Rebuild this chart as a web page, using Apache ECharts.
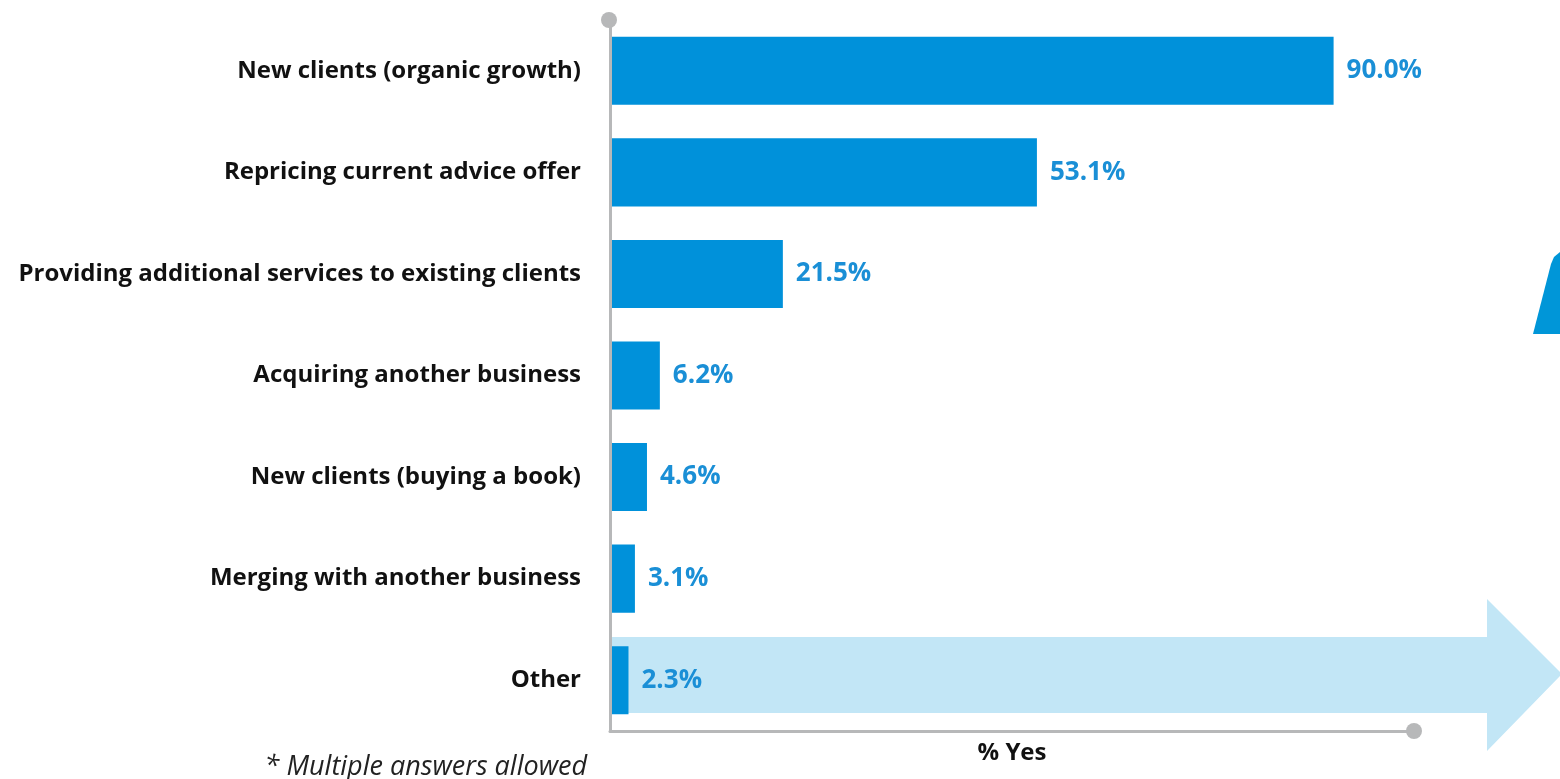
<!DOCTYPE html>
<html>
<head>
<meta charset="utf-8">
<style>
  html, body { margin: 0; padding: 0; background: #ffffff; }
  #chart { width: 1560px; height: 779px; }
</style>
<script src="https://cdn.jsdelivr.net/npm/echarts@6/dist/echarts.min.js"></script>
</head>
<body>
<div id="chart"></div>
<script>
// Growth sources named by advice businesses (share answering yes)
const categories = [
  'New clients (organic growth)',
  'Repricing current advice offer',
  'Providing additional services to existing clients',
  'Acquiring another business',
  'New clients (buying a book)',
  'Merging with another business',
  'Other'
];
const yesShare = [90.0, 53.1, 21.5, 6.2, 4.6, 3.1, 2.3];
const axisTitle = '% Yes';
const footnote = '* Multiple answers allowed';

const FONT = '"Open Sans", "Noto Sans", sans-serif';
const BAR_BLUE = '#0091da';
const LABEL_BLUE = '#1a8fd6';
const AXIS_GREY = '#b7b8b9';

const grid = { left: 610, right: 146, top: 20, bottom: 48 };

const chart = echarts.init(document.getElementById('chart'), null, { renderer: 'canvas' });

chart.setOption({
  animation: false,
  backgroundColor: '#ffffff',
  grid: grid,
  xAxis: {
    type: 'value',
    min: 0,
    max: 100,
    splitLine: { show: false },
    axisLabel: { show: false },
    axisTick: { show: false },
    axisLine: { show: true, onZero: false, lineStyle: { color: AXIS_GREY, width: 3 } },
    name: axisTitle,
    nameLocation: 'middle',
    nameGap: 10,
    nameTextStyle: { fontFamily: FONT, fontWeight: 'bold', fontSize: 24, color: '#111111', verticalAlign: 'top' },
    z: 5
  },
  yAxis: {
    type: 'category',
    data: categories,
    inverse: true,
    axisTick: { show: false },
    axisLine: { show: true, lineStyle: { color: AXIS_GREY, width: 3 } },
    axisLabel: {
      margin: 29,
      fontFamily: FONT,
      fontWeight: 'bold',
      fontSize: 24,
      color: '#111111'
    },
    z: 5
  },
  series: [{
    type: 'bar',
    data: yesShare,
    barCategoryGap: '33%',
    itemStyle: { color: BAR_BLUE },
    label: {
      show: true,
      position: 'right',
      distance: 13,
      formatter: p => p.value.toFixed(1) + '%',
      fontFamily: FONT,
      fontWeight: 'bold',
      fontSize: 26,
      color: LABEL_BLUE
    },
    z: 3
  }],
  graphic: [
    // light arrow running behind the last row
    {
      type: 'polygon',
      z: -10,
      shape: {
        points: [[611, 637], [1487, 637], [1487, 599], [1562, 674], [1487, 751], [1487, 713], [611, 713]]
      },
      style: { fill: '#c2e6f6' }
    },
    // sliver of a blue shape at the right edge
    {
      type: 'polygon',
      z: -10,
      shape: {
        points: [[1533, 334], [1551, 264], [1554, 257], [1560, 252], [1560, 334]]
      },
      style: { fill: '#0096d8' }
    },
    // round caps at the axis ends
    { type: 'circle', z: 10, shape: { cx: 609, cy: 20, r: 8 }, style: { fill: AXIS_GREY } },
    { type: 'circle', z: 10, shape: { cx: 1414, cy: 731, r: 8 }, style: { fill: AXIS_GREY } },
    {
      type: 'text',
      z: 10,
      style: {
        x: 587,
        y: 767,
        text: footnote,
        align: 'right',
        verticalAlign: 'middle',
        font: 'italic 27px ' + FONT,
        fill: '#222222'
      }
    }
  ]
});
</script>
</body>
</html>
